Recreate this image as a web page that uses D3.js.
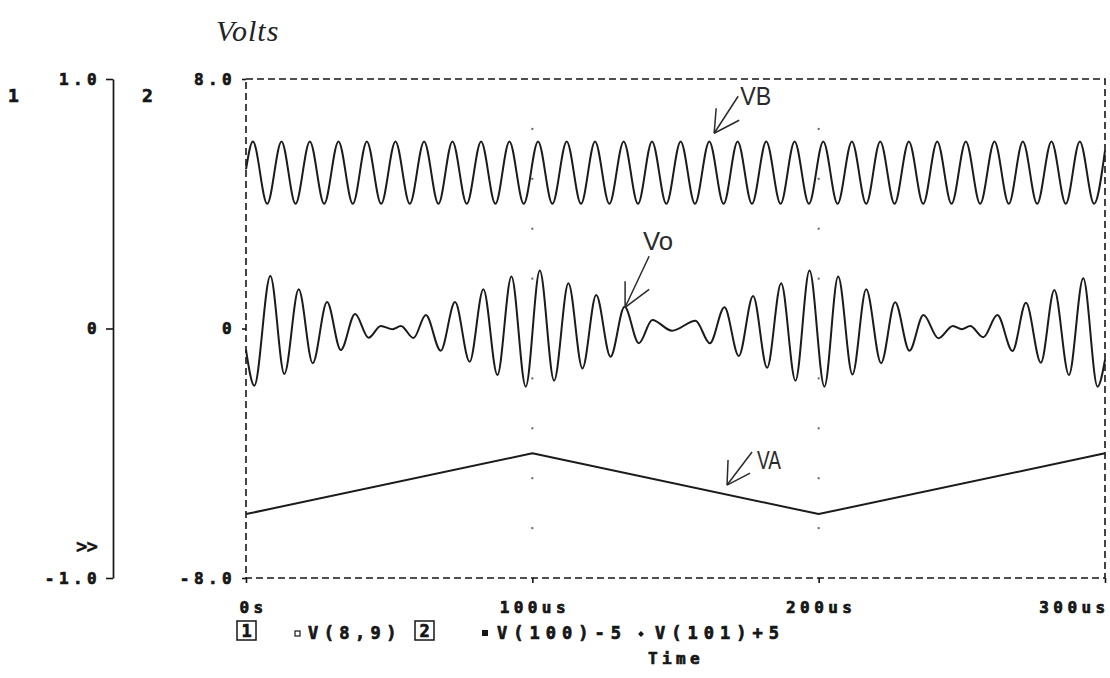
<!DOCTYPE html>
<html>
<head>
<meta charset="utf-8">
<script src="https://cdn.jsdelivr.net/npm/d3@7"></script>
<style>
  html, body { margin: 0; padding: 0; background: #ffffff; }
  svg { display: block; }
</style>
</head>
<body>
<svg id="chart" width="1110" height="678"></svg>
<script>
// ---- Axis definitions ----------------------------------------------------
const timeTicks = [0, 100, 200, 300];                 // microseconds
const timeTickLabels = ["0s", "100us", "200us", "300us"];
const axis1Domain = [-1, 1];
const axis1Ticks = [-1, 0, 1];
const axis1TickLabels = ["-1.0", "0", "1.0"];
const axis2Domain = [-8, 8];
const axis2Ticks = [-8, 0, 8];
const axis2TickLabels = ["-8.0", "0", "8.0"];
const gridTimes = [100, 200];
const gridLevels = [-6.4, -4.8, -3.2, -1.6, 1.6, 3.2, 4.8, 6.4];

// ---- VB = V(101)+5 (axis 2): peaks and troughs of the carrier -------------
const vbTime = [0, 2.4, 7.4, 12.4, 17.3, 22.3, 27.3, 32.3, 37.3, 42.2, 47.2,
  52.2, 57.2, 62.2, 67.2, 72.1, 77.1, 82.1, 87.1, 92.0, 97.0,
  102.0, 107.0, 112.0, 117.0, 121.9, 126.9, 131.9, 136.9, 141.8, 146.8,
  151.8, 156.8, 161.8, 166.8, 171.7, 176.7, 181.7, 186.7, 191.6, 196.6,
  201.6, 206.6, 211.6, 216.6, 221.5, 226.5, 231.5, 236.5, 241.4, 246.4,
  251.4, 256.4, 261.4, 266.4, 271.3, 276.3, 281.3, 286.3, 291.2, 296.2, 300];
const vbValue = [5.1, 6.0, 4.0, 6.0, 4.0, 6.0, 4.0, 6.0, 4.0, 6.0, 4.0,
  6.0, 4.0, 6.0, 4.0, 6.0, 4.0, 6.0, 4.0, 6.0, 4.0,
  6.0, 4.0, 6.0, 4.0, 6.0, 4.0, 6.0, 4.0, 6.0, 4.0,
  6.0, 4.0, 6.0, 4.0, 6.0, 4.0, 6.0, 4.0, 6.0, 4.0,
  6.0, 4.0, 6.0, 4.0, 6.0, 4.0, 6.0, 4.0, 6.0, 4.0,
  6.0, 4.0, 6.0, 4.0, 6.0, 4.0, 6.0, 4.0, 6.0, 4.0, 5.7];

// ---- Vo = V(8,9) (axis 1): modulated output, turning points ---------------
const voTime = [0, 2.9, 8.5, 13.4, 18.4, 23.3, 28.3, 33.1, 38.1, 42.8, 47.1,
  51.2, 54.1, 58.5, 62.8, 68.0, 73.0, 78.1, 82.9, 87.8, 92.7,
  97.7, 102.6, 107.6, 112.6, 117.5, 122.3, 127.3, 132.2, 137.2, 141.9,
  148.8, 157.0, 162.0, 167.1, 172.1, 177.1, 182.0, 186.9, 191.9, 196.8,
  202.0, 206.8, 211.8, 216.6, 221.8, 226.7, 231.7, 236.6, 241.8, 246.9,
  250.0, 252.9, 257.5, 262.4, 267.7, 272.4, 277.6, 282.3, 287.4, 292.4,
  297.4, 300];
const voValue = [-0.086, -0.229, 0.210, -0.182, 0.157, -0.139, 0.106, -0.086, 0.058, -0.037, 0.010,
  -0.003, 0.010, -0.038, 0.054, -0.089, 0.106, -0.133, 0.157, -0.186, 0.208,
  -0.233, 0.232, -0.209, 0.181, -0.160, 0.134, -0.113, 0.087, -0.059, 0.034,
  -0.009, 0.031, -0.059, 0.085, -0.110, 0.130, -0.157, 0.181, -0.209, 0.232,
  -0.233, 0.208, -0.184, 0.157, -0.139, 0.105, -0.089, 0.054, -0.039, 0.010,
  -0.003, 0.010, -0.035, 0.054, -0.090, 0.103, -0.137, 0.154, -0.186, 0.201,
  -0.233, -0.126];

// ---- VA = V(100)-5 (axis 2): triangle wave corners ------------------------
const vaTime = [0, 100, 200, 300];
const vaValue = [-5.95, -4.0, -5.95, -4.0];

// ---- Trace call-outs: label and the point the arrow touches --------------
const calloutLabels = ["VB", "Vo", "VA"];
const calloutAxis = [2, 1, 2];
const calloutTime = [163.5, 132.4, 168.0];
const calloutValue = [6.26, 0.085, -5.02];

// ---- Legend -------------------------------------------------------------
const legendAxisIds = ["1", "2"];
const legendTraces = ["V(8,9)", "V(100)-5", "V(101)+5"];

// =========================================================================
const INK = "#161616";
const MONO = "'DejaVu Sans Mono', 'Liberation Mono', monospace";

const svg = d3.select("#chart");

const x = d3.scaleLinear().domain([0, 300]).range([246, 1105]);
const y1 = d3.scaleLinear().domain(axis1Domain).range([578, 79]);
const y2 = d3.scaleLinear().domain(axis2Domain).range([578, 79]);

// Heavy monospaced lettering used for axis and legend text
function monoText(sel, spacing, size) {
  sel.attr("font-family", MONO)
     .attr("font-weight", "bold")
     .attr("font-size", size || 16)
     .attr("letter-spacing", spacing)
     .attr("fill", INK)
     .attr("stroke", INK)
     .attr("stroke-width", 0.7);
}

// Plot frame (dashed)
svg.append("rect")
  .attr("x", x(0)).attr("y", y2(8))
  .attr("width", x(300) - x(0)).attr("height", y2(-8) - y2(8))
  .attr("fill", "none")
  .attr("stroke", INK)
  .attr("stroke-width", 1.6)
  .attr("stroke-dasharray", "7,4");

// Grid dots
const gridPts = [];
gridTimes.forEach(t => gridLevels.forEach(v => gridPts.push([t, v])));
svg.append("g").selectAll("rect").data(gridPts).join("rect")
  .attr("x", d => x(d[0]) - 1).attr("y", d => y2(d[1]) - 1)
  .attr("width", 2).attr("height", 2)
  .attr("fill", "#666");

// Time axis
const gx = svg.append("g")
  .attr("transform", `translate(0,${y2(-8)})`)
  .call(d3.axisBottom(x)
    .tickValues(timeTicks)
    .tickFormat((d, i) => timeTickLabels[i])
    .tickSize(5).tickSizeOuter(0).tickPadding(19));
gx.select(".domain").remove();
gx.selectAll(".tick line").attr("stroke", INK).attr("stroke-width", 1.6);
gx.selectAll(".tick text").call(monoText, 4.4)
  .attr("text-anchor", (d, i) => i === 0 ? "start" : (i === timeTicks.length - 1 ? "end" : "middle"))
  .attr("dx", (d, i) => i === 0 ? -7 : (i === timeTicks.length - 1 ? 4 : 2));

// Axis 2 (left edge of the frame)
const gy2 = svg.append("g")
  .attr("transform", `translate(${x(0)},0)`)
  .call(d3.axisLeft(y2)
    .tickValues(axis2Ticks)
    .tickFormat((d, i) => axis2TickLabels[i])
    .tickSize(4).tickSizeOuter(0).tickPadding(10));
gy2.select(".domain").remove();
gy2.selectAll(".tick line").attr("stroke", INK).attr("stroke-width", 1.6);
gy2.selectAll(".tick text").call(monoText, 4.4).attr("dx", 4);

// Axis 1 (separate solid scale)
const gy1 = svg.append("g")
  .attr("transform", "translate(113,0)")
  .call(d3.axisLeft(y1)
    .tickValues(axis1Ticks)
    .tickFormat((d, i) => axis1TickLabels[i])
    .tickSize(7).tickSizeOuter(0).tickPadding(9));
gy1.select(".domain").attr("stroke", INK).attr("stroke-width", 1.7);
gy1.selectAll(".tick line").attr("stroke", INK).attr("stroke-width", 1.6);
gy1.selectAll(".tick text").call(monoText, 4.4).attr("dx", 4);

// Axis numbers
svg.append("text").text(legendAxisIds[0])
  .attr("x", 8).attr("y", 102).call(monoText, 0, 18);
svg.append("text").text(legendAxisIds[1])
  .attr("x", 142).attr("y", 102).call(monoText, 0, 18);
svg.append("text").text(">>")
  .attr("x", 76).attr("y", 553).call(monoText, -1, 19)
  .attr("stroke-width", 0.3);

// Y title
svg.append("text").text("Volts")
  .attr("x", 216).attr("y", 41)
  .attr("font-family", "'Liberation Serif', 'Times New Roman', serif")
  .attr("font-style", "italic")
  .attr("font-size", 30)
  .attr("letter-spacing", 1)
  .attr("fill", "#222");

// Traces
const line1 = d3.line().x(d => x(d[0])).y(d => y1(d[1])).curve(d3.curveMonotoneX);
const line2 = d3.line().x(d => x(d[0])).y(d => y2(d[1])).curve(d3.curveMonotoneX);
const line2Lin = d3.line().x(d => x(d[0])).y(d => y2(d[1]));

const traces = svg.append("g")
  .attr("fill", "none")
  .attr("stroke", "#1b1b1b")
  .attr("stroke-width", 2)
  .attr("stroke-linejoin", "round");

traces.append("path").attr("d", line2(d3.zip(vbTime, vbValue)));
traces.append("path").attr("d", line1(d3.zip(voTime, voValue)));
traces.append("path").attr("d", line2Lin(d3.zip(vaTime, vaValue)));

// Call-outs: [tail, head-a, head-b, text] offsets from the arrow tip
const calloutLayout = [
  { tail: [24, -37], ha: [2, -25], hb: [25, -13], text: [26, -28], w: 31 },
  { tail: [24, -51], ha: [0, -26], hb: [24, -18], text: [18, -57], w: 30 },
  { tail: [25, -33], ha: [1, -25], hb: [23, -12], text: [30, -16], w: 24 }
];
const callouts = svg.append("g");
calloutLabels.forEach((lab, i) => {
  const ys = calloutAxis[i] === 1 ? y1 : y2;
  const tx = x(calloutTime[i]);
  const ty = ys(calloutValue[i]);
  const L = calloutLayout[i];
  const g = callouts.append("g").attr("stroke", "#2a2a2a").attr("stroke-width", 1.5).attr("fill", "none");
  [L.tail, L.ha, L.hb].forEach(o => {
    g.append("line").attr("x1", tx).attr("y1", ty).attr("x2", tx + o[0]).attr("y2", ty + o[1]);
  });
  callouts.append("text").text(lab)
    .attr("x", tx + L.text[0]).attr("y", ty + L.text[1])
    .attr("font-family", "'Liberation Sans', Arial, sans-serif")
    .attr("font-size", 26)
    .attr("textLength", L.w)
    .attr("lengthAdjust", "spacingAndGlyphs")
    .attr("fill", "#2a2a2a");
});

// Legend
const lg = svg.append("g");
const legBaseline = 639;
function axisBox(xLeft, label) {
  lg.append("rect").attr("x", xLeft).attr("y", 621).attr("width", 19).attr("height", 19)
    .attr("fill", "none").attr("stroke", INK).attr("stroke-width", 1.5);
  lg.append("text").text(label).attr("x", xLeft + 9.5).attr("y", legBaseline - 2)
    .attr("text-anchor", "middle").call(monoText, 0, 17);
}
axisBox(237, legendAxisIds[0]);
lg.append("rect").attr("x", 295).attr("y", 631).attr("width", 5).attr("height", 5)
  .attr("fill", "none").attr("stroke", INK).attr("stroke-width", 1.2);
lg.append("text").text(legendTraces[0]).attr("x", 308).attr("y", legBaseline).call(monoText, 5.4, 17);
axisBox(415, legendAxisIds[1]);
lg.append("rect").attr("x", 482).attr("y", 630).attr("width", 6).attr("height", 6).attr("fill", INK);
lg.append("text").text(legendTraces[1]).attr("x", 497).attr("y", legBaseline).call(monoText, 6.0, 17);
lg.append("path").attr("d", d3.symbol(d3.symbolDiamond2, 22)())
  .attr("transform", "translate(641,634)").attr("fill", INK);
lg.append("text").text(legendTraces[2]).attr("x", 655).attr("y", legBaseline).call(monoText, 6.0, 17);

svg.append("text").text("Time").attr("x", 648).attr("y", 664).call(monoText, 4.4);
</script>
</body>
</html>
